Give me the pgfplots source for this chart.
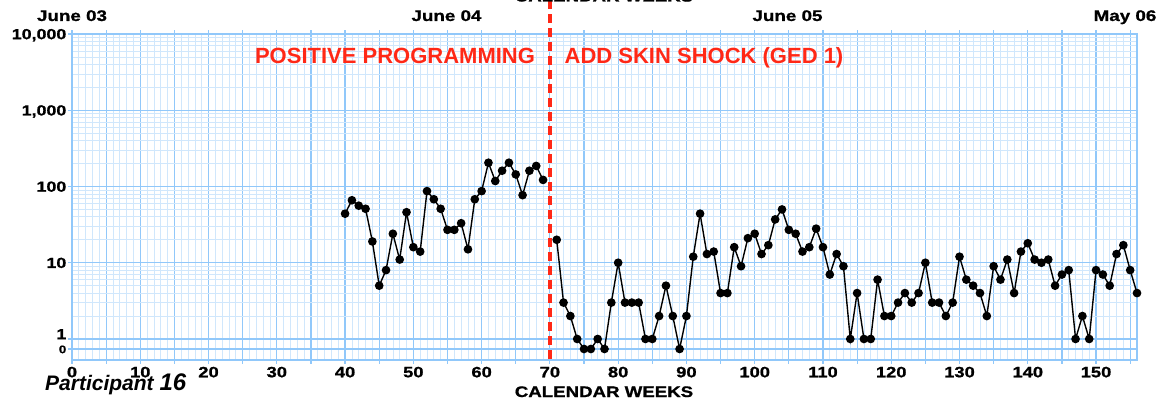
\documentclass[border=0pt]{standalone}
\usepackage{fontspec}
\setmainfont{Liberation Sans}
\newfontface\wbold{Liberation Sans Bold}[FakeStretch=1.22, FakeBold=1.0]
\usepackage{pgfplots}
\usepackage{pgfplotstable}
\pgfplotsset{compat=1.18}
\definecolor{gmaj}{RGB}{145,200,250}
\definecolor{gmin}{RGB}{208,231,252}
\definecolor{ccred}{RGB}{255,40,22}
\newcommand\W[1]{{\wbold #1}}

% phase 1: positive programming (weeks 40-69)
\pgfplotstableread{
w v
40 44
41 66
42 56
43 51
44 19
45 5
46 8
47 24
48 11
49 46
50 16
51 14
52 87
53 68
54 51
55 27
56 27
57 33
58 15
59 68
60 87
61 205
62 118
63 161
64 205
65 144
66 77
67 161
68 186
69 122
}\phaseA

% phase 2: add skin shock (weeks 71-156); 0 is drawn on the zero line
\pgfplotstableread{
w v
71 20
72 3
73 2
74 1
75 0
76 0
77 1
78 0
79 3
80 10
81 3
82 3
83 3
84 1
85 1
86 2
87 5
88 2
89 0
90 2
91 12
92 44
93 13
94 14
95 4
96 4
97 16
98 9
99 21
100 24
101 13
102 17
103 37
104 50
105 27
106 24
107 14
108 16
109 28
110 16
111 7
112 13
113 9
114 1
115 4
116 1
117 1
118 6
119 2
120 2
121 3
122 4
123 3
124 4
125 10
126 3
127 3
128 2
129 3
130 12
131 6
132 5
133 4
134 2
135 9
136 6
137 11
138 4
139 14
140 18
141 11
142 10
143 11
144 5
145 7
146 8
147 1
148 2
149 1
150 8
151 7
152 5
153 13
154 17
155 8
156 4
}\phaseB

\begin{document}
\begin{tikzpicture}
\begin{axis}[
  at={(0pt,0pt)}, anchor=south west,
  scale only axis, width=1065pt, height=326pt,
  xmin=0, xmax=156,
  ymode=log, ymin=0.530, ymax=10000,
  clip=false,
  axis line style={gmaj, line width=1.3pt},
  xtick={0,5,...,155},
  xticklabels={\W{0},,\W{10},,\W{20},,\W{30},,\W{40},,\W{50},,\W{60},,\W{70},,\W{80},,\W{90},,\W{100},,\W{110},,\W{120},,\W{130},,\W{140},,\W{150},},
  minor x tick num=4,
  ytick={1,10,100,1000,10000},
  yticklabels={\raisebox{5pt}{\W{1}},\W{10},\W{100},\W{1,000},\W{10,000}},
  minor ytick={2,3,4,5,6,7,8,9,20,30,40,50,60,70,80,90,200,300,400,500,600,700,800,900,2000,3000,4000,5000,6000,7000,8000,9000},
  extra y ticks={0.739},
  extra y tick labels={\fontsize{11}{11}\selectfont\raisebox{1pt}{\W{0}}},
  extra y tick style={grid=major},
  grid=both,
  major grid style={gmaj, line width=1.2pt},
  minor grid style={gmin, line width=0.7pt},
  tick style={gmaj, line width=1.2pt},
  major tick length=4pt, minor tick length=0pt,
  tick align=outside,
  xtick pos=both, ytick pos=left,
  xticklabel pos=lower,
  xticklabel style={font=\fontsize{15}{16}\selectfont, anchor=base, inner sep=0pt, yshift=-13.3pt},
  yticklabel style={font=\fontsize{14.6}{16}\selectfont, anchor=base east, inner sep=0pt, xshift=-1.5pt, yshift=-5.2pt},
]
\addplot[black, line width=1.4pt, mark=*, mark size=3.6pt, mark options={fill=black}]
  table[x=w, y expr={\thisrow{v}>0 ? \thisrow{v} : 0.739}] {\phaseA};
\addplot[black, line width=1.4pt, mark=*, mark size=3.6pt, mark options={fill=black}]
  table[x=w, y expr={\thisrow{v}>0 ? \thisrow{v} : 0.739}] {\phaseB};
\draw[ccred, line width=3.5pt, dash pattern=on 9pt off 5pt] (axis cs:70,0.545) -- (axis cs:70,40000);
\end{axis}
% labels (picture origin = lower left corner of the chart grid)
\begin{scope}[every node/.style={inner sep=0pt}]
\node[anchor=base, font=\fontsize{15.4}{17}\selectfont\wbold] at (0pt,339pt) {June 03};
\node[anchor=base, font=\fontsize{15.4}{17}\selectfont\wbold] at (374.5pt,339pt) {June 04};
\node[anchor=base, font=\fontsize{15.4}{17}\selectfont\wbold] at (715.5pt,339pt) {June 05};
\node[anchor=base, font=\fontsize{15.4}{17}\selectfont\wbold] at (1053pt,339pt) {May 06};
\node[anchor=base, font=\fontsize{22}{24}\selectfont\bfseries, text=ccred] at (323pt,296pt) {POSITIVE PROGRAMMING};
\node[anchor=base, font=\fontsize{22}{24}\selectfont\bfseries, text=ccred] at (632pt,296pt) {ADD SKIN SHOCK (GED 1)};
\node[anchor=base, font=\fontsize{15.3}{17}\selectfont\wbold] at (532pt,-37pt) {CALENDAR WEEKS};
\node[anchor=base, font=\fontsize{15.3}{17}\selectfont\wbold] at (532pt,358.5pt) {CALENDAR WEEKS};
\node[anchor=base west, font=\bfseries\itshape] at (-27pt,-30pt) {\fontsize{21}{24}\selectfont Participant \fontsize{24}{26}\selectfont 16};
\end{scope}
\pgfresetboundingbox
\path[use as bounding box] (-72pt,-42pt) rectangle (1087pt,360pt);
\end{tikzpicture}
\end{document}
